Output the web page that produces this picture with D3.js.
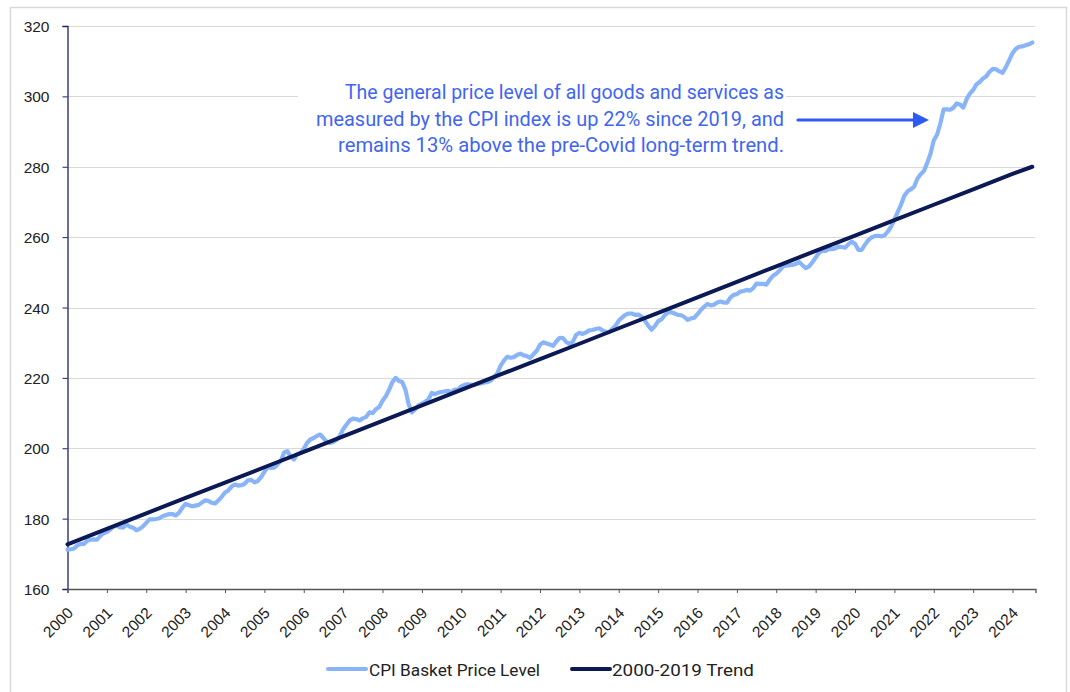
<!DOCTYPE html>
<html>
<head>
<meta charset="utf-8">
<script src="https://cdn.jsdelivr.net/npm/d3@7"></script>
<style>
  html, body { margin: 0; padding: 0; background: #fff; }
  svg { display: block; }
  .tick text { font-family: 'Liberation Sans', Arial, sans-serif; font-size: 15.5px; fill: #222; }
</style>
</head>
<body>
<div id="chart"></div>
<script>
// ---------- DATA ----------
// Monthly CPI basket price level; first value plotted at 2000.0, one value per month
const cpiStartYear = 2000;
const cpiValues = [
  171.2, 171.3, 171.5, 172.4, 172.8, 172.8, 173.7, 174.0, 174.1, 174.0,
  175.1, 175.8, 176.2, 176.9, 177.7, 178.0, 177.5, 177.5, 178.3, 177.7, 177.4, 176.7,
  177.1, 177.8, 178.8, 179.8, 179.8, 179.9, 180.1, 180.7, 181.0, 181.3, 181.3, 180.9,
  181.7, 183.1, 184.2, 183.8, 183.5, 183.7, 183.9, 184.6, 185.2, 185.0, 184.5, 184.3,
  185.2, 186.2, 187.4, 188.0, 189.1, 189.7, 189.4, 189.5, 189.9, 190.9, 191.0, 190.3,
  190.7, 191.8, 193.3, 194.6, 194.4, 194.5, 195.4, 196.4, 198.8, 199.2, 197.6, 196.8,
  198.3, 198.7, 199.8, 201.5, 202.5, 202.9, 203.5, 203.9, 202.9, 201.8, 201.5, 201.8,
  202.4, 203.5, 205.4, 206.7, 207.9, 208.4, 208.3, 207.9, 208.5, 208.9, 210.2, 210.0,
  211.1, 211.7, 213.5, 214.8, 216.6, 218.8, 220.0, 219.1, 218.8, 216.6, 212.4, 210.2,
  211.1, 212.2, 212.7, 213.2, 213.9, 215.7, 215.4, 215.8, 216.0, 216.2, 216.3, 215.9,
  216.7, 216.7, 217.6, 218.0, 218.2, 218.0, 218.0, 218.3, 218.4, 218.7, 218.8, 219.2,
  220.2, 221.3, 223.5, 224.9, 226.0, 225.7, 225.9, 226.5, 226.9, 226.4, 226.2, 225.7,
  226.7, 227.7, 229.4, 230.1, 229.8, 229.5, 229.1, 230.4, 231.4, 231.3, 230.2, 229.6,
  230.3, 232.2, 232.8, 232.5, 232.9, 233.5, 233.6, 233.9, 234.1, 233.5, 233.1, 233.0,
  233.9, 234.8, 236.3, 237.1, 237.9, 238.3, 238.3, 237.9, 238.0, 237.4, 236.2, 234.8,
  233.7, 234.7, 236.1, 236.6, 237.8, 238.6, 238.7, 238.3, 237.9, 237.8, 237.3, 236.5,
  236.9, 237.1, 238.1, 239.3, 240.2, 241.0, 240.6, 240.8, 241.4, 241.7, 241.4, 241.4,
  242.8, 243.6, 243.8, 244.5, 244.7, 245.0, 244.8, 245.5, 246.8, 246.7, 246.7, 246.5,
  247.9, 249.0, 249.6, 250.5, 251.6, 252.0, 252.0, 252.1, 252.4, 252.9, 252.0, 251.2,
  251.7, 252.8, 254.2, 255.5, 256.1, 256.1, 256.6, 256.6, 256.8, 257.3, 257.2, 257.0,
  258.0, 258.7, 258.1, 256.4, 256.4, 257.8, 259.1, 259.9, 260.3, 260.4, 260.2, 260.5,
  261.6, 263.0, 264.9, 267.1, 269.2, 271.7, 273.0, 273.6, 274.3, 276.6, 277.9, 278.8,
  281.1, 283.7, 287.5, 289.1, 292.3, 296.3, 296.3, 296.2, 296.8, 298.0, 297.7, 296.8,
  299.2, 300.8, 301.8, 303.4, 304.1, 305.1, 305.7, 307.0, 307.8, 307.7, 307.1, 306.7,
  308.4, 310.3, 312.3, 313.5, 314.1, 314.2, 314.5, 314.8, 315.3
];

// 2000-2019 trend, read at each year mark (plus final point)
const trendYears = [2000, 2001, 2002, 2003, 2004, 2005, 2006, 2007, 2008, 2009, 2010, 2011, 2012,
                    2013, 2014, 2015, 2016, 2017, 2018, 2019, 2020, 2021, 2022, 2023, 2024, 2024.5];
const trendValues = [172.7, 177.1, 181.5, 185.9, 190.2, 194.6, 199.0, 203.4, 207.8, 212.2, 216.6, 221.0, 225.3,
                     229.7, 234.1, 238.5, 242.9, 247.3, 251.7, 256.1, 260.4, 264.8, 269.2, 273.6, 278.0, 280.0];

const xTickYears = d3.range(2000, 2025);
const yTicks = [160, 180, 200, 220, 240, 260, 280, 300, 320];
const seriesNames = ["CPI Basket Price Level", "2000-2019 Trend"];
const annotationLines = [
  "The general price level of all goods and services as",
  "measured by the CPI index is up 22% since 2019, and",
  "remains 13% above the pre-Covid long-term trend."
];

// ---------- STYLE / LAYOUT ----------
const W = 1070, H = 692;
const colCPI = "#8ab4f8";
const colTrend = "#0b1a55";
const colNote = "#3f65f2";
const colArrow = "#2f5bf5";

const svg = d3.select("#chart").append("svg").attr("width", W).attr("height", H);

// outer frame
svg.append("rect").attr("x", 10.5).attr("y", 7.5).attr("width", 1056).attr("height", 700)
  .attr("fill", "#fff").attr("stroke", "#d9d9d9").attr("stroke-width", 1.5);

const x = d3.scaleLinear().domain([2000, 2024 + 7 / 12]).range([67.5, 1035.5]);
const y = d3.scaleLinear().domain([160, 320]).range([589, 26]);

// gridlines
svg.append("g").selectAll("line").data(yTicks.filter(d => d !== 160)).join("line")
  .attr("x1", x.range()[0]).attr("x2", x.range()[1])
  .attr("y1", d => Math.round(y(d)) + 0.5).attr("y2", d => Math.round(y(d)) + 0.5)
  .attr("stroke", "#d9d9d9").attr("stroke-width", 1);

// y axis
const yAxis = svg.append("g").attr("transform", `translate(${x.range()[0]},0)`)
  .call(d3.axisLeft(y).tickValues(yTicks).tickSize(5).tickPadding(13).tickFormat(d3.format("d")));
yAxis.attr("font-size", null).attr("font-family", null);
yAxis.select(".domain").attr("stroke", "#1a2466").attr("stroke-width", 1.3);
yAxis.selectAll(".tick line").attr("stroke", "#1a2466");
yAxis.selectAll("text").attr("dy", "0.36em");

// x axis
const xAxis = svg.append("g").attr("transform", `translate(0,${y(160)})`)
  .call(d3.axisBottom(x).tickValues(xTickYears).tickSize(4).tickFormat(d3.format("d")));
xAxis.attr("font-size", null).attr("font-family", null);
xAxis.select(".domain").attr("stroke", "#555").attr("stroke-width", 1.3);
xAxis.selectAll(".tick line").attr("stroke", "#555");
xAxis.selectAll("text")
  .attr("text-anchor", "end")
  .attr("y", 0).attr("dy", 0)
  .attr("transform", "translate(6,25) rotate(-45)");

// lines
const cpiData = cpiValues.map((v, i) => ({ t: cpiStartYear + i / 12, v }));
const trendData = trendYears.map((t, i) => ({ t, v: trendValues[i] }));
const line = d3.line().x(d => x(d.t)).y(d => y(d.v));

svg.append("path").datum(cpiData).attr("d", line)
  .attr("fill", "none").attr("stroke", colCPI).attr("stroke-width", 4.2)
  .attr("stroke-linejoin", "round").attr("stroke-linecap", "round");
svg.append("path").datum(trendData).attr("d", line)
  .attr("fill", "none").attr("stroke", colTrend).attr("stroke-width", 4)
  .attr("stroke-linejoin", "round").attr("stroke-linecap", "round");

// annotation box
svg.append("rect").attr("x", 298).attr("y", 72).attr("width", 488).attr("height", 88).attr("fill", "#fff");
const noteFont = "Roboto, 'Noto Sans', sans-serif";
const noteLens = [439, 468, 446];
annotationLines.forEach((t, i) => {
  svg.append("text").attr("x", 784).attr("y", 99 + i * 26.7)
    .attr("text-anchor", "end").attr("font-family", noteFont).attr("font-size", 20)
    .attr("fill", colNote).attr("textLength", noteLens[i]).attr("lengthAdjust", "spacingAndGlyphs")
    .text(t);
});

// arrow
svg.append("line").attr("x1", 798).attr("x2", 915).attr("y1", 120).attr("y2", 120)
  .attr("stroke", colArrow).attr("stroke-width", 3.2).attr("stroke-linecap", "round");
svg.append("path").attr("d", "M913,112 L929,120 L913,128 Z").attr("fill", colArrow);

// legend
const legend = [
  { name: seriesNames[0], color: colCPI, x1: 328, x2: 366, tx: 369, len: 171 },
  { name: seriesNames[1], color: colTrend, x1: 572, x2: 610, tx: 612, len: 142 }
];
legend.forEach(l => {
  svg.append("line").attr("x1", l.x1).attr("x2", l.x2).attr("y1", 669).attr("y2", 669)
    .attr("stroke", l.color).attr("stroke-width", 4).attr("stroke-linecap", "round");
  svg.append("text").attr("x", l.tx).attr("y", 675.5)
    .attr("font-family", noteFont).attr("font-size", 16.5).attr("fill", "#222")
    .attr("textLength", l.len).attr("lengthAdjust", "spacingAndGlyphs")
    .text(l.name);
});
</script>
</body>
</html>
